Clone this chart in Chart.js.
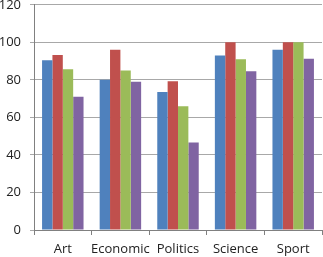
<!DOCTYPE html>
<html><head><meta charset="utf-8">
<script src="https://cdn.jsdelivr.net/npm/chart.js@4.4.0/dist/chart.umd.min.js"></script>
<style>
html,body{margin:0;padding:0;background:#fff;overflow:hidden;}
#wrap{position:absolute;left:0;top:-12px;width:323px;height:269px;}
</style></head>
<body><div id="wrap"><canvas id="c"></canvas></div>
<script>
const categories = ["Art", "Economic", "Politics", "Science", "Sport"];
const series1 = [90.5, 80, 73.5, 93, 96];
const series2 = [93.3, 96, 79.3, 100, 100];
const series3 = [85.7, 85, 66, 91, 100];
const series4 = [71, 79, 46.6, 84.6, 91.3];
const yTicks = [0, 20, 40, 60, 80, 100, 120];

const colors = ["#4F81BD", "#C0504D", "#9BBB59", "#8064A2"];
const all = [series1, series2, series3, series4];
new Chart(document.getElementById('c'), {
  type: 'bar',
  data: {
    labels: categories,
    datasets: all.map((d, i) => ({
      label: 'Series ' + (i + 1), data: d, backgroundColor: colors[i],
      borderWidth: 0, categoryPercentage: 0.72, barPercentage: 1.0
    }))
  },
  options: {
    responsive: true, maintainAspectRatio: false, animation: false,
    layout: { padding: { left: 0, right: 1, top: 0, bottom: 0 } },
    plugins: { legend: { display: false }, title: { display: false }, tooltip: { enabled: false } },
    scales: {
      x: {
        afterFit: (s) => { s.height = 27; },
        grid: { drawOnChartArea: false, drawTicks: true, tickLength: 5, color: '#808080', offset: true },
        border: { color: '#808080' },
        ticks: { color: '#222', padding: 6, maxRotation: 0, minRotation: 0, autoSkip: false, font: { family: 'Open Sans', size: 13 } }
      },
      y: {
        min: 0, max: 120,
        afterFit: (s) => { s.width = 34; },
        afterBuildTicks: (ax) => { ax.ticks = yTicks.map(v => ({ value: v })); },
        grid: { color: '#a8a8a8', tickLength: 4, drawTicks: true },
        border: { color: '#808080' },
        ticks: { color: '#222', padding: 9, font: { family: 'Open Sans', size: 13 } }
      }
    }
  }
});
</script></body></html>
